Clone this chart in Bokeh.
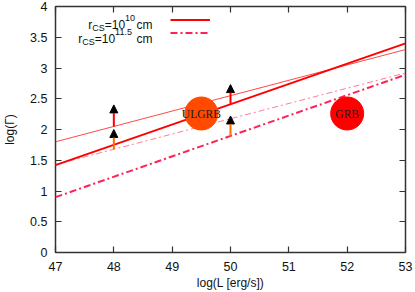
from bokeh.plotting import figure
from bokeh.models import (FixedTicker, LinearAxis, Label, Arrow, NormalHead,
                          ColumnDataSource, Legend, LegendItem, Range1d)
from bokeh.core.properties import value
from bokeh.embed import file_html
from bokeh.resources import INLINE

# ---- data ----
L_ends = [47, 53]
gamma_thick_r10 = [1.42, 3.40]
gamma_thin_r10 = [1.80, 3.30]
gamma_thick_r115 = [0.90, 2.89]
gamma_thin_r115 = [1.43, 2.92]

src_names = ["ULGRB", "GRB"]
src_L = [49.5, 52.0]
src_G = [2.26, 2.26]
src_colors = ["#FF4A00", "#FF0000"]

arrow_L = [48, 48, 50, 50]
arrow_G_from = [2.05, 1.68, 2.42, 1.89]
arrow_G_to = [2.40, 2.00, 2.73, 2.22]
arrow_colors = ["#FF0000", "#FF6A00", "#FF0000", "#FF6A00"]

x_ticks = [47, 48, 49, 50, 51, 52, 53]
y_ticks = [0, 0.5, 1, 1.5, 2, 2.5, 3, 3.5, 4]

FONT = "Liberation Sans"
AX = "#333333"

p = figure(width=415, height=292, x_range=Range1d(47, 53), y_range=Range1d(0, 4),
           output_backend="svg", toolbar_location=None,
           min_border_left=50, min_border_right=10, min_border_top=6, min_border_bottom=39)
p.styles = {"position": "absolute", "top": "0px", "left": "0px"}
p.grid.visible = False
p.background_fill_color = "white"
p.border_fill_color = "white"
p.outline_line_color = AX
p.outline_line_width = 1.5
p.outline_line_alpha = 1.0

p.add_layout(LinearAxis(), "above")
p.add_layout(LinearAxis(), "right")

for ax in p.xaxis:
    ax.ticker = FixedTicker(ticks=x_ticks)
for ax in p.yaxis:
    ax.ticker = FixedTicker(ticks=y_ticks)
for ax in p.axis:
    ax.axis_line_color = None
    ax.major_tick_in = 6
    ax.major_tick_out = 0
    ax.major_tick_line_color = AX
    ax.major_tick_line_width = 1.2
    ax.minor_tick_line_color = None
    ax.major_label_text_font = FONT
    ax.major_label_text_font_size = "12.5px"
    ax.major_label_text_color = "#111111"
    ax.axis_label_text_font = FONT
    ax.axis_label_text_font_size = "12px"
    ax.axis_label_text_font_style = "normal"
    ax.axis_label_text_color = "#111111"

# mirrored tick marks (no labels) on top and right
p.above[0].major_label_overrides = {t: "" for t in x_ticks}
p.right[0].major_label_overrides = {t: "" for t in y_ticks}
for ax in (p.above[0], p.right[0]):
    ax.major_label_text_font_size = "1px"
    ax.major_label_standoff = 0

p.below[0].axis_label = "log(L [erg/s])"
p.below[0].major_label_standoff = 9
p.below[0].axis_label_standoff = 2
p.left[0].axis_label = "log(Γ)"
p.left[0].major_label_standoff = 8
p.left[0].axis_label_standoff = 10

# ---- lines ----
r_thin10 = p.line(L_ends, gamma_thin_r10, line_color="#FF4848", line_width=1)
r_thin115 = p.line(L_ends, gamma_thin_r115, line_color="#FF7C98", line_width=1,
                   line_dash="6 3 2 3")
r_thick115 = p.line(L_ends, gamma_thick_r115, line_color="#FF2255", line_width=2,
                    line_dash="7 3 2 3")
r_thick10 = p.line(L_ends, gamma_thick_r10, line_color="#FF0000", line_width=2)

# ---- arrows ----
asrc = ColumnDataSource(dict(x0=arrow_L, y0=arrow_G_from, x1=arrow_L, y1=arrow_G_to,
                             c=arrow_colors))
p.add_layout(Arrow(source=asrc, x_start="x0", y_start="y0", x_end="x1", y_end="y1",
                   line_color="c", line_width=2,
                   end=NormalHead(size=8, fill_color="black", line_color="black")))

# ---- sources ----
ssrc = ColumnDataSource(dict(x=src_L, y=src_G, c=src_colors, t=src_names))
p.scatter("x", "y", source=ssrc, size=33, fill_color="c", line_color="c")
p.text("x", "y", text="t", source=ssrc, text_font=value("Liberation Serif"),
       text_font_size="11.5px", text_align="center", text_baseline="middle",
       text_color="#1a1a1a")

# ---- key ----
leg = Legend(items=[LegendItem(label=" ", renderers=[r_thick10]),
                    LegendItem(label=" ", renderers=[r_thick115])],
             location=(115, 213), padding=0, margin=0, spacing=0,
             glyph_width=40, glyph_height=13, label_width=0, label_height=13,
             label_standoff=0, label_text_font_size="1px",
             background_fill_alpha=0, border_line_alpha=0)
p.add_layout(leg, "center")

def piece(x, y, t, size):
    p.add_layout(Label(x=x, y=y, x_units="screen", y_units="screen", text=t,
                       text_font=FONT, text_font_size=size, text_color="#111111",
                       text_baseline="alphabetic", text_align="left"))

# line 1: r_CS = 10^10 cm
piece(32.7, 228, "r", "12px")
piece(36.7, 224.5, "CS", "9px")
piece(49.2, 228, "=10", "12px")
piece(69.6, 234.5, "10", "9px")
piece(81, 228, "cm", "12px")
# line 2: r_CS = 10^11.5 cm
piece(22.7, 214, "r", "12px")
piece(26.7, 210.5, "CS", "9px")
piece(39.2, 214, "=10", "12px")
piece(59.6, 221, "11.5", "9px")
piece(81, 214, "cm", "12px")

open("out.html", "w").write(file_html(p, INLINE))
